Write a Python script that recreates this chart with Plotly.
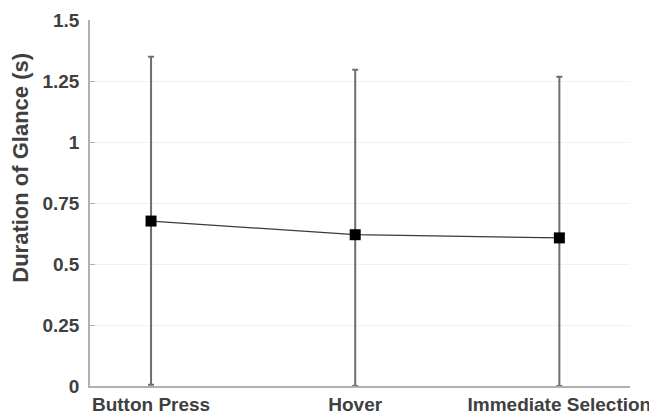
import plotly.graph_objects as go

categories = ["Button Press", "Hover", "Immediate Selection"]
cat_pos = [1, 2, 3]
mean_duration = [0.676, 0.620, 0.607]
upper_bound = [1.349, 1.296, 1.267]
lower_bound = [0.005, 0.0, 0.0]
y_ticks = [0, 0.25, 0.5, 0.75, 1, 1.25, 1.5]
y_ticktext = ["0", "0.25", "0.5", "0.75", "1", "1.25", "1.5"]

err_plus = [u - m for u, m in zip(upper_bound, mean_duration)]
err_minus = [m - l for m, l in zip(mean_duration, lower_bound)]

font_family = "Liberation Sans, Arial, sans-serif"
text_col = "#404040"

fig = go.Figure()
fig.add_trace(go.Scatter(
    x=cat_pos, y=mean_duration, mode="lines+markers",
    line=dict(color="#3a3a3a", width=1.3),
    marker=dict(symbol="square", size=11, color="#000000"),
    error_y=dict(type="data", array=err_plus, arrayminus=err_minus,
                 color="#6e6e6e", thickness=2, width=3),
    showlegend=False, cliponaxis=False,
))

fig.update_layout(
    width=649, height=407,
    margin=dict(l=82, r=27, t=12, b=29),
    paper_bgcolor="white", plot_bgcolor="white",
    font=dict(family=font_family, size=19, color=text_col, weight="bold"),
    xaxis=dict(range=[0.701, 3.346], tickvals=cat_pos, ticktext=categories,
               automargin=False,
               showgrid=False, zeroline=False, showline=True,
               linecolor="#b0b0b0", linewidth=1.5, ticks="",
               ticklabelstandoff=0,
               tickfont=dict(family=font_family, size=19, color=text_col, weight="bold")),
    yaxis=dict(range=[0, 1.5], tickvals=y_ticks, ticktext=y_ticktext,
               automargin=False,
               showgrid=True, gridcolor="#f1f1f1", gridwidth=1,
               zeroline=False, showline=True, linecolor="#b0b0b0", linewidth=1.5,
               ticks="inside", ticklen=5, tickcolor="#b0b0b0",
               ticklabelstandoff=5,
               tickfont=dict(family=font_family, size=19, color=text_col, weight="bold")),
    annotations=[dict(text="Duration of Glance (s)", textangle=-90,
                      xref="paper", yref="paper", x=-0.128, y=0.596,
                      xanchor="center", yanchor="middle", showarrow=False,
                      font=dict(family=font_family, size=22, color=text_col, weight="bold"))],
)

fig.write_html("out.html")
